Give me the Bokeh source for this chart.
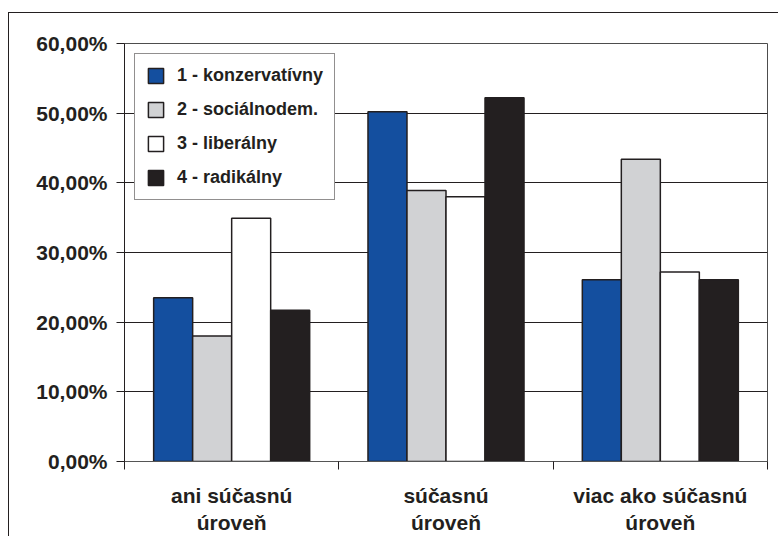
import numpy as np
from bokeh.plotting import figure
from bokeh.models import (ColumnDataSource, FixedTicker, Legend, LegendItem, Range1d)
from bokeh.embed import file_html
from bokeh.resources import INLINE

# ---- data ----
categories = ["ani súčasnú\núroveň", "súčasnú\núroveň", "viac ako súčasnú\núroveň"]
series_names = ["1 - konzervatívny", "2 - sociálnodem.", "3 - liberálny", "4 - radikálny"]
konzervativny = [23.5, 50.2, 26.1]
socialnodem = [18.0, 38.9, 43.4]
liberalny = [34.9, 38.0, 27.2]
radikalny = [21.7, 52.2, 26.1]
series_values = [konzervativny, socialnodem, liberalny, radikalny]
series_colors = ["#144f9f", "#d1d2d4", "#ffffff", "#231f20"]
y_ticks = [0, 10, 20, 30, 40, 50, 60]
y_tick_labels = ["0,00%", "10,00%", "20,00%", "30,00%", "40,00%", "50,00%", "60,00%"]

FONT = "Liberation Sans"
DARK = "#231f20"

p = figure(width=770, height=524, output_backend="svg", toolbar_location=None,
           x_range=Range1d(0, len(categories)), y_range=Range1d(0, 60),
           min_border_left=115, min_border_right=12, min_border_top=30, min_border_bottom=74)
p.styles = {"border-top": "1.5px solid #231f20", "border-left": "1.5px solid #231f20",
            "margin-left": "8px", "margin-top": "12px"}
p.background_fill_color = "white"
p.border_fill_color = "white"
p.outline_line_color = "#4d4d4d"
p.outline_line_width = 1

bar_w = 0.182
offsets = (np.arange(len(series_names)) - 1.5) * bar_w
centers = np.arange(len(categories)) + 0.5

items = []
for name, vals, col, off in zip(series_names, series_values, series_colors, offsets):
    src = ColumnDataSource(dict(x=centers + off, top=vals))
    r = p.vbar(x="x", top="top", width=bar_w, bottom=0, source=src,
               fill_color=col, line_color=DARK, line_width=1.5)
    items.append(LegendItem(label=name, renderers=[r]))

# y axis
p.yaxis.ticker = FixedTicker(ticks=y_ticks)
p.yaxis.major_label_overrides = {t: l for t, l in zip(y_ticks, y_tick_labels)}
p.yaxis.major_label_text_font = FONT
p.yaxis.major_label_text_font_style = "bold"
p.yaxis.major_label_text_font_size = "21px"
p.yaxis.major_label_text_color = DARK
p.yaxis.major_tick_in = 0
p.yaxis.major_tick_out = 8
p.yaxis.minor_tick_line_color = None
p.yaxis.axis_line_color = DARK
p.yaxis.major_tick_line_color = DARK
p.yaxis.major_label_standoff = 9

# x axis
p.xaxis.ticker = FixedTicker(ticks=list(centers), minor_ticks=list(range(len(categories) + 1)))
p.xaxis.major_label_overrides = {float(c): l for c, l in zip(centers, categories)}
p.xaxis.major_label_text_font = FONT
p.xaxis.major_label_text_font_style = "bold"
p.xaxis.major_label_text_font_size = "21px"
p.xaxis.major_label_text_color = DARK
p.xaxis.major_tick_line_color = None
p.xaxis.major_tick_in = 0
p.xaxis.major_tick_out = 0
p.xaxis.minor_tick_in = 0
p.xaxis.minor_tick_out = 8
p.xaxis.minor_tick_line_color = DARK
p.xaxis.axis_line_color = "#555555"
p.xaxis.major_label_standoff = 14

p.xgrid.grid_line_color = None
p.ygrid.grid_line_color = DARK
p.ygrid.grid_line_width = 1

legend = Legend(items=items, location="top_left")
legend.margin = 10
legend.padding = 11
legend.spacing = 13
legend.glyph_height = 19
legend.glyph_width = 19
legend.label_height = 19
legend.label_standoff = 12
legend.label_text_font = FONT
legend.label_text_font_style = "bold"
legend.label_text_font_size = "18px"
legend.label_text_color = DARK
legend.border_line_color = DARK
legend.border_line_width = 1.5
legend.background_fill_alpha = 1
p.add_layout(legend)

open("out.html", "w").write(file_html(p, INLINE))
